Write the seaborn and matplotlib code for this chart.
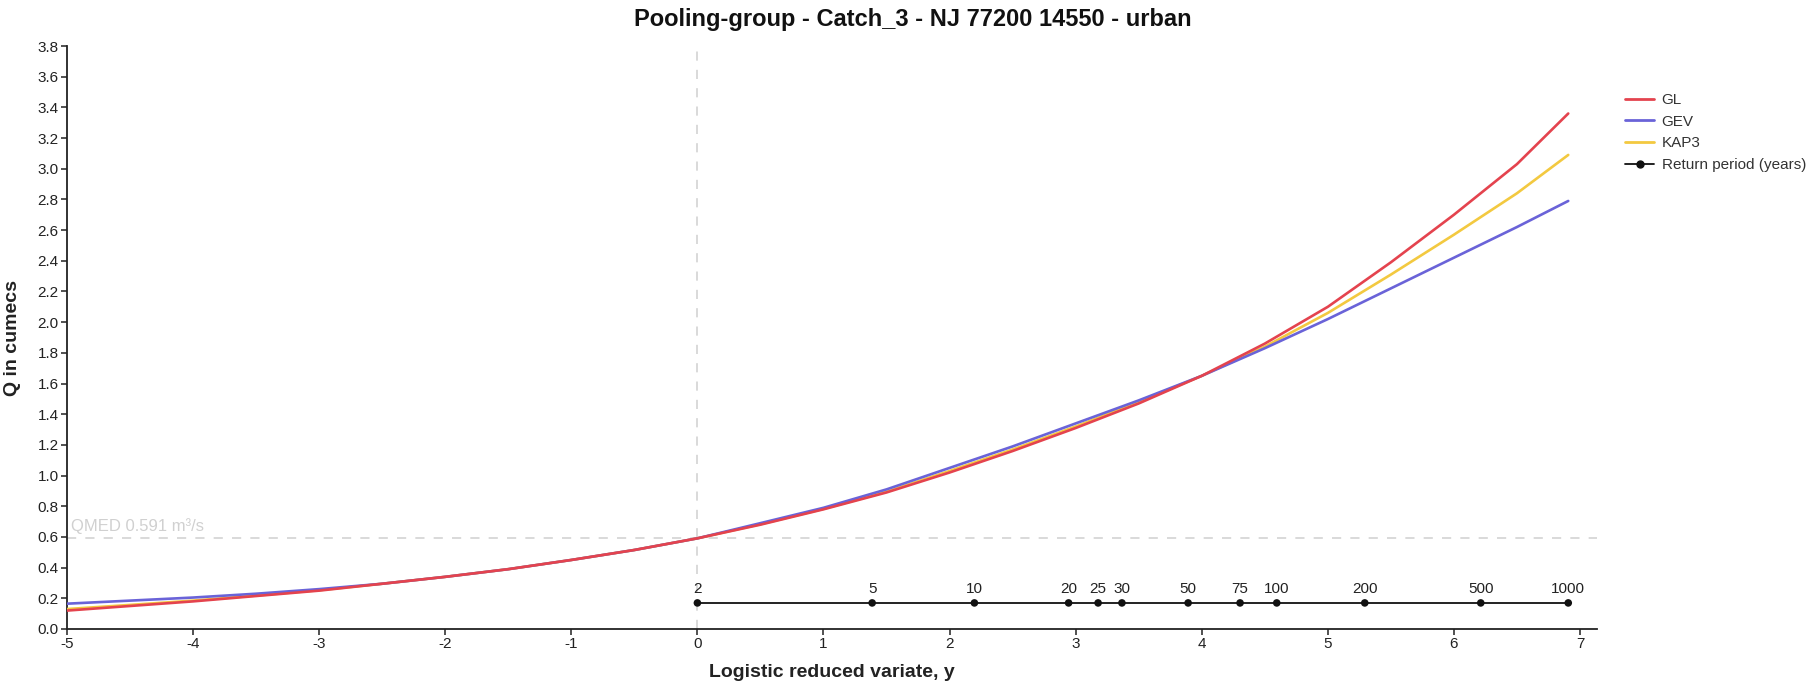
import matplotlib
matplotlib.use("Agg")
import matplotlib.pyplot as plt
from matplotlib.lines import Line2D
import numpy as np
import pandas as pd
import seaborn as sns

# Logistic reduced variate at which the growth curves are evaluated
reduced_y = [-5, -4.5, -4, -3.5, -3, -2.5, -2, -1.5, -1, -0.5, 0, 0.5, 1, 1.5,
             2, 2.5, 3, 3.5, 4, 4.5, 5, 5.5, 6, 6.5, 6.907]

# Flow estimates (m3/s) for each fitted distribution
q_gl = [0.12, 0.15, 0.18, 0.215, 0.25, 0.295, 0.34, 0.39, 0.45, 0.515, 0.591,
        0.68, 0.78, 0.89, 1.02, 1.16, 1.31, 1.47, 1.65, 1.86, 2.10, 2.39,
        2.70, 3.03, 3.36]
q_gev = [0.165, 0.185, 0.205, 0.23, 0.26, 0.295, 0.34, 0.39, 0.45, 0.515,
         0.591, 0.69, 0.79, 0.91, 1.05, 1.19, 1.34, 1.49, 1.65, 1.83, 2.02,
         2.22, 2.42, 2.62, 2.79]
q_kap3 = [0.13, 0.157, 0.185, 0.218, 0.253, 0.295, 0.34, 0.39, 0.45, 0.515,
          0.591, 0.683, 0.783, 0.895, 1.03, 1.17, 1.32, 1.48, 1.65, 1.84,
          2.06, 2.31, 2.57, 2.84, 3.09]

# Return periods (years) and their position on the reduced-variate axis
return_periods = ["2", "5", "10", "20", "25", "30", "50", "75", "100", "200",
                  "500", "1000"]
return_period_y = [0.0, 1.386, 2.197, 2.944, 3.178, 3.367, 3.892, 4.304,
                   4.595, 5.293, 6.213, 6.907]
return_row_q = 0.17

qmed = 0.591
title = "Pooling-group - Catch_3 - NJ 77200 14550 - urban"

colors = {"GL": "#e4434e", "GEV": "#6a63d8", "KAP3": "#f3c940"}

sns.set_theme(style="ticks")
plt.rcParams["font.family"] = ["Liberation Sans", "DejaVu Sans"]
plt.rcParams["axes.unicode_minus"] = False

curves = pd.DataFrame({
    "y": reduced_y * 3,
    "Q": q_kap3 + q_gev + q_gl,
    "dist": ["KAP3"] * len(reduced_y) + ["GEV"] * len(reduced_y) + ["GL"] * len(reduced_y),
})

fig = plt.figure(figsize=(18.14, 6.86), dpi=100)
ax = fig.add_axes([67 / 1814, 57 / 686, 1530 / 1814, 583 / 686])

# Reference lines for QMED and y = 0
ax.axhline(qmed, color="#cfcfcf", lw=1.1, ls=(0, (6, 6)), zorder=1)
ax.axvline(0, color="#cfcfcf", lw=1.1, ls=(0, (6, 6)), zorder=1)
ax.text(-4.97, qmed + 0.025, "QMED 0.591 m³/s", color="#d0d0d0",
        fontsize=12, ha="left", va="bottom", zorder=1)

for name in ["KAP3", "GEV", "GL"]:
    sns.lineplot(data=curves[curves["dist"] == name], x="y", y="Q",
                 color=colors[name], lw=1.9, ax=ax, legend=False,
                 errorbar=None, zorder=3)

# Return-period scale
rp = pd.DataFrame({"y": return_period_y, "Q": [return_row_q] * len(return_period_y)})
sns.lineplot(data=rp, x="y", y="Q", color="#111111", lw=1.3, ax=ax,
             legend=False, errorbar=None, zorder=4)
sns.scatterplot(data=rp, x="y", y="Q", color="#111111", s=30, ax=ax,
                legend=False, zorder=5, edgecolor="none")
for lab, xv in zip(return_periods, return_period_y):
    ax.text(xv, return_row_q + 0.045, lab, ha="center", va="bottom",
            fontsize=11, color="#222222")

ax.set_xlim(-5, 7.135)
ax.set_ylim(0, 3.8)
ax.set_xticks(range(-5, 8))
ax.set_yticks(np.arange(0, 3.81, 0.2))
ax.set_yticklabels([f"{v:.1f}" for v in np.arange(0, 3.81, 0.2)])
ax.tick_params(axis="both", labelsize=11, colors="#222222", length=4,
               width=1.1, direction="out", pad=2)
sns.despine(ax=ax)
for side in ["left", "bottom"]:
    ax.spines[side].set_color("#222222")
    ax.spines[side].set_linewidth(1.3)

ax.set_xlabel("Logistic reduced variate, y", fontsize=14, fontweight="bold",
              color="#222222", labelpad=9)
ax.set_ylabel("Q in cumecs", fontsize=14, fontweight="bold",
              color="#222222", labelpad=12)
fig.text(0.503, 0.988, title, ha="center", va="top", fontsize=17,
         fontweight="bold", color="#111111")

handles = [
    Line2D([], [], color=colors["GL"], lw=2.0),
    Line2D([], [], color=colors["GEV"], lw=2.0),
    Line2D([], [], color=colors["KAP3"], lw=2.0),
    Line2D([], [], color="#111111", lw=1.3, marker="o", markersize=5),
]
fig.legend(handles, ["GL", "GEV", "KAP3", "Return period (years)"],
           loc="upper left", bbox_to_anchor=(1625 / 1814, 1 - 93 / 686),
           frameon=False, fontsize=11, handlelength=1.9, handletextpad=0.5,
           labelspacing=0.5, borderaxespad=0, borderpad=0,
           labelcolor="#333333")

fig.savefig("out.png", dpi=100, facecolor="white")
